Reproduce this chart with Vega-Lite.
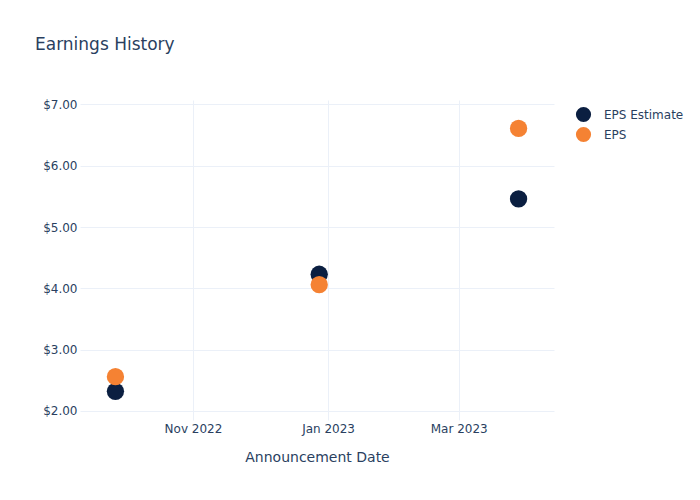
{
  "$schema": "https://vega.github.io/schema/vega-lite/v6.json",
  "width": 474,
  "height": 320,
  "autosize": {"type": "none"},
  "padding": {"left": 80, "top": 100, "right": 146, "bottom": 80},
  "background": "white",
  "config": {
    "font": "DejaVu Sans",
    "view": {"stroke": null},
    "axis": {
      "labelColor": "#2a3f5f",
      "titleColor": "#2a3f5f",
      "labelFontSize": 12,
      "titleFontSize": 14,
      "titleFontWeight": "normal",
      "gridColor": "#ebf0f8",
      "gridWidth": 1,
      "domain": false,
      "ticks": false
    }
  },
  "title": {
    "text": "Earnings History",
    "anchor": "start",
    "frame": "group",
    "dx": -45,
    "offset": 44,
    "fontSize": 17,
    "fontWeight": "normal",
    "color": "#2a3f5f"
  },
  "data": {
    "values": [
      {"date": "2022-09-27", "series": "EPS Estimate", "value": 2.32},
      {"date": "2022-12-28", "series": "EPS Estimate", "value": 4.23},
      {"date": "2023-03-28", "series": "EPS Estimate", "value": 5.46},
      {"date": "2022-09-27", "series": "EPS", "value": 2.56},
      {"date": "2022-12-28", "series": "EPS", "value": 4.06},
      {"date": "2023-03-28", "series": "EPS", "value": 6.61}
    ]
  },
  "mark": {"type": "point", "filled": true, "opacity": 1, "size": 300, "shape": "circle"},
  "encoding": {
    "x": {
      "field": "date",
      "type": "temporal",
      "title": "Announcement Date",
      "scale": {
        "type": "utc",
        "domain": [
          {"year": 2022, "month": 9, "date": 11, "utc": true},
          {"year": 2023, "month": 4, "date": 13, "utc": true}
        ]
      },
      "axis": {
        "values": [
          {"year": 2022, "month": 11, "date": 1, "utc": true},
          {"year": 2023, "month": 1, "date": 1, "utc": true},
          {"year": 2023, "month": 3, "date": 1, "utc": true}
        ],
        "format": "%b %Y",
        "labelPadding": 3,
        "titlePadding": 16
      }
    },
    "y": {
      "field": "value",
      "type": "quantitative",
      "title": null,
      "scale": {"domain": [1.853, 7.073], "nice": false, "zero": false},
      "axis": {
        "values": [2, 3, 4, 5, 6, 7],
        "format": "$.2f",
        "labelPadding": 3
      }
    },
    "color": {
      "field": "series",
      "type": "nominal",
      "sort": ["EPS Estimate", "EPS"],
      "scale": {"domain": ["EPS Estimate", "EPS"], "range": ["#0b1f41", "#f58233"]},
      "legend": {
        "title": null,
        "orient": "none",
        "legendX": 495,
        "legendY": 6,
        "symbolSize": 230,
        "symbolType": "circle",
        "labelFontSize": 12,
        "labelColor": "#2a3f5f",
        "rowPadding": 3,
        "labelOffset": 12
      }
    },
    "order": {"value": 0}
  }
}
